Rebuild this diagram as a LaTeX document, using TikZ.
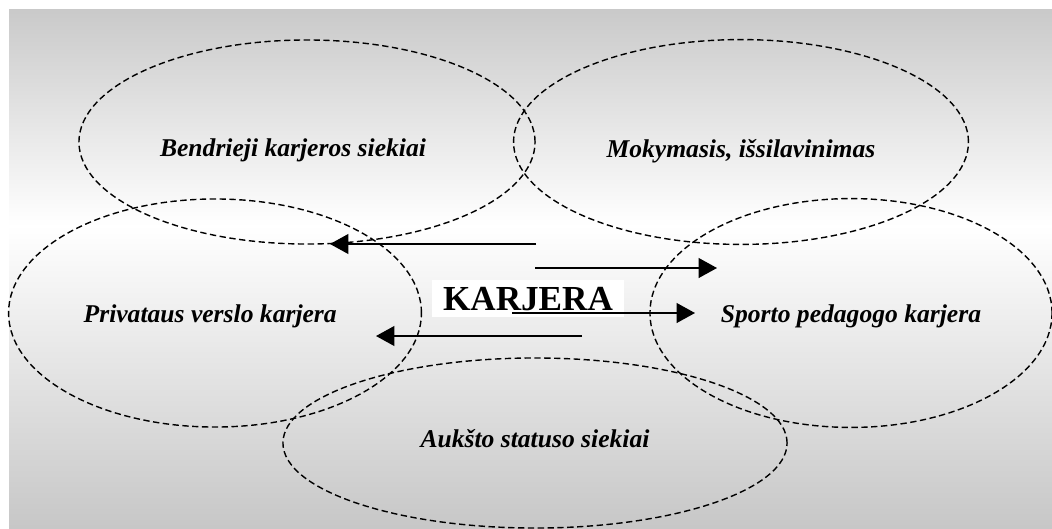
\documentclass[tikz,border=0pt]{standalone}
\usepackage{fontspec}
\setmainfont{Liberation Serif}
\usetikzlibrary{arrows.meta}
\usetikzlibrary{shapes.geometric}
\tikzset{
  every picture/.style={font={\normalsize}, >={Triangle[length=13pt,width=14pt]}}}

\begin{document}
\begin{tikzpicture}[x=0.025cm, y=-0.025cm,
    zone/.style={draw, ellipse, line width=1pt, dash pattern=on 4.5pt off 2.5pt,
      inner sep=0pt},
    lbl/.style={inner sep=0pt, font={\fontsize{18.2}{22}\selectfont\bfseries\itshape}},
    title/.style={fill=white, inner xsep=8pt, inner ysep=5pt,
      font={\fontsize{25}{30}\selectfont\bfseries}},
    link/.style={->, line width=1.2pt}]

    \useasboundingbox (0,0) rectangle (1052,528);

    % background
    \shade[top color=black!21, bottom color=white] (9,9) rectangle (1052,226);
    \shade[top color=white, bottom color=black!22] (9,225) rectangle (1052,528);

    \begin{scope}
      \node[zone, minimum width=11.4cm, minimum height=5.1cm,
        label={[lbl, xshift=-0.35cm, yshift=-0.22cm]center:Bendrieji karjeros siekiai}] (BK) at (307,142) {};
      \node[zone, minimum width=11.37cm, minimum height=5.12cm,
        label={[lbl, yshift=-0.22cm]center:Mokymasis, išsilavinimas}] (MI) at (741,142) {};
      \node[zone, minimum width=10.32cm, minimum height=5.7cm,
        label={[lbl, xshift=-0.12cm, yshift=-0.08cm]center:Privataus verslo karjera}] (PV) at (215,313) {};
      \node[zone, minimum width=10.05cm, minimum height=5.72cm,
        label={[lbl, yshift=-0.08cm]center:Sporto pedagogo karjera}] (SP) at (851,313) {};
      \node[zone, minimum width=12.6cm, minimum height=4.25cm,
        label={[lbl, yshift=0.12cm]center:Aukšto statuso siekiai}] (AS) at (535,443) {};
    \end{scope}

    \node[title, anchor=base] (KR) at (528,310) {KARJERA};

    \begin{scope}
      \coordinate (A1) at (536,244);
      \coordinate (B1) at (330,244);
      \coordinate (A2) at (535,268);
      \coordinate (B2) at (717,268);
      \coordinate (A3) at (512,313);
      \coordinate (B3) at (695,313);
      \coordinate (A4) at (582,336);
      \coordinate (B4) at (376,336);
    \end{scope}

    \path[link] (A1) edge (B1);
    \path[link] (A2) edge (B2);
    \path[link] (A3) edge (B3);
    \path[link] (A4) edge (B4);
  \end{tikzpicture}
\end{document}
